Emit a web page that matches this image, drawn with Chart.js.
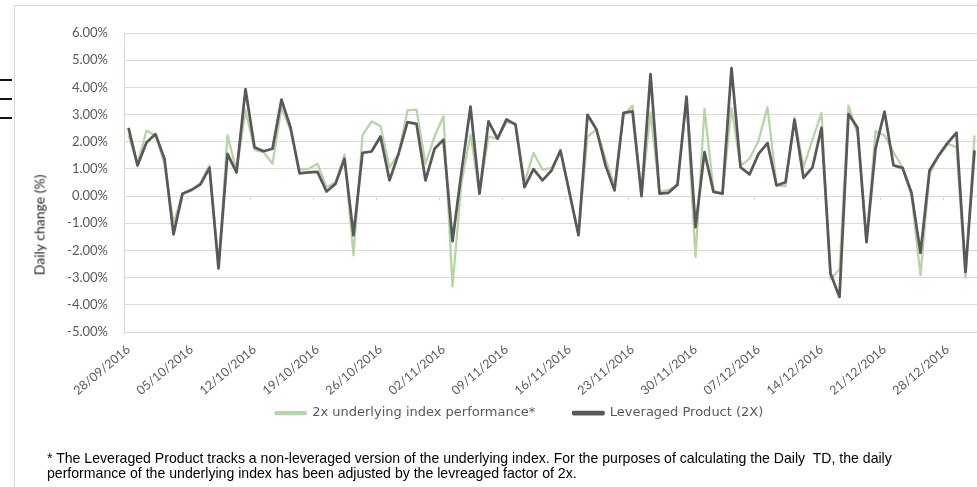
<!DOCTYPE html>
<html>
<head>
<meta charset="utf-8">
<script src="https://cdn.jsdelivr.net/npm/chart.js@4.4.1/dist/chart.umd.min.js"></script>
<style>
  html, body { margin: 0; padding: 0; background: #fff; overflow: hidden; }
  body { width: 977px; height: 487px; position: relative; }
  #frame { position: absolute; left: 14px; top: 5px; width: 1000px; height: 500px;
           border-left: 1px solid #d9d9d9; border-top: 1px solid #d9d9d9; }
  .stub { position: absolute; left: 0; width: 12px; height: 2px; background: #111; }
  #wrap { position: absolute; left: 0; top: 0; width: 1000px; height: 465px; }
  #ytitle { position: absolute; left: 39px; top: 225px; transform: translate(-50%, -50%) rotate(-90deg);
            font: 14px Lato, sans-serif; color: #262626; white-space: nowrap; }
  #note { position: absolute; left: 47px; top: 451px; font: 14.1px "Liberation Sans Narrow", "Liberation Sans", sans-serif;
          line-height: 15px; color: #000; white-space: pre; }
</style>
</head>
<body>
<div id="frame"></div>
<div class="stub" style="top:79px"></div>
<div class="stub" style="top:98px"></div>
<div class="stub" style="top:117px"></div>
<div id="wrap"><canvas id="chart"></canvas></div>
<div id="ytitle">Daily change (%)</div>
<div id="note">* The Leveraged Product tracks a non-leveraged version of the underlying index. For the purposes of calculating the Daily  TD, the daily
performance of the underlying index has been adjusted by the levreaged factor of 2x.</div>

<script>
// ── Data ───────────────────────────────────────────────────
// daily points from 28/09/2016, one label every 7 days

const FIRST_DAY = [2016, 8, 28];
const N_DAYS = 95;
const LABEL_EVERY = 7;

const CATEGORIES = Array.from({ length: N_DAYS }, (_, i) => {
  const d = new Date(FIRST_DAY[0], FIRST_DAY[1], FIRST_DAY[2] + i);
  const dd = String(d.getDate()).padStart(2, '0');
  const mm = String(d.getMonth() + 1).padStart(2, '0');
  return `${dd}/${mm}/${d.getFullYear()}`;
});

const SERIES_NAMES = ['2x underlying index performance*', 'Leveraged Product (2X)'];

const UNDERLYING_2X = [
  2.23, 1.19, 2.41, 2.22, 1.19, -1.00, 0.09, 0.20, 0.50, 1.12,
  -2.60, 2.23, 0.94, 3.15, 1.70, 1.62, 1.19, 3.27, 2.41, 0.97,
  1.00, 1.19, 0.33, 0.51, 1.53, -2.18, 2.23, 2.75, 2.57, 1.06,
  1.55, 3.15, 3.18, 1.19, 2.19, 2.94, -3.32, 0.50, 2.26, 0.09,
  2.19, 2.11, 2.72, 2.68, 0.51, 1.59, 0.97, 1.03, 1.62, 0.12,
  -1.44, 2.19, 2.45, 1.37, 0.39, 2.96, 3.33, 0.00, 3.08, 0.15,
  0.23, 0.39, 3.50, -2.24, 3.21, 0.21, 0.09, 3.24, 1.12, 1.37,
  2.04, 3.27, 0.39, 0.37, 2.90, 1.06, 2.08, 3.05, -3.04, -2.70,
  3.33, 2.29, -1.69, 2.39, 2.23, 1.62, 1.06, 0.00, -2.91, 0.82,
  1.46, 1.92, 1.80, -3.00, 2.23,
];

const LEVERAGED = [
  2.51, 1.13, 1.97, 2.28, 1.37, -1.41, 0.09, 0.23, 0.43, 1.04,
  -2.66, 1.55, 0.87, 3.93, 1.80, 1.65, 1.74, 3.55, 2.53, 0.84,
  0.87, 0.89, 0.17, 0.45, 1.37, -1.44, 1.59, 1.64, 2.19, 0.58,
  1.55, 2.72, 2.66, 0.58, 1.74, 2.07, -1.66, 0.90, 3.29, 0.09,
  2.75, 2.11, 2.82, 2.63, 0.33, 0.99, 0.58, 0.94, 1.68, 0.12,
  -1.44, 2.99, 2.45, 1.13, 0.21, 3.06, 3.12, 0.00, 4.49, 0.09,
  0.12, 0.43, 3.66, -1.14, 1.62, 0.15, 0.09, 4.71, 1.06, 0.80,
  1.55, 1.95, 0.39, 0.51, 2.80, 0.67, 1.06, 2.51, -2.85, -3.71,
  3.02, 2.51, -1.69, 1.74, 3.11, 1.13, 1.04, 0.12, -2.09, 0.94,
  1.49, 1.95, 2.33, -2.79, 1.68,
];

const Y_MIN = -5;
const Y_MAX = 6;
const Y_STEP = 1;

// ── Chart ──────────────────────────────────────────────────

const FONT = 'Lato, sans-serif';
const GRID = '#d9d9d9';
const TEXT = '#595959';
const LEGEND_FONT = 13;
const LEGEND_PAD = 38;
const LEGEND_Y = 413;
const LEGEND_DX = 30;

// small Excel-style tick marks on the zero line, between categories
const zeroTicks = {
  id: 'zeroTicks',
  beforeDatasetsDraw(chart) {
    const x = chart.scales.x, y = chart.scales.y, ctx = chart.ctx;
    const y0 = y.getPixelForValue(0);
    ctx.save();
    ctx.strokeStyle = GRID;
    ctx.lineWidth = 1;
    for (let i = LABEL_EVERY; i < CATEGORIES.length; i += LABEL_EVERY) {
      const px = Math.round((x.getPixelForValue(i - 1) + x.getPixelForValue(i)) / 2) + 0.5;
      ctx.beginPath();
      ctx.moveTo(px, y0);
      ctx.lineTo(px, y0 + 4);
      ctx.stroke();
    }
    ctx.restore();
  },
};

// pull the legend up under the date labels and a bit to the right
const legendNudge = {
  id: 'legendNudge',
  afterLayout(chart) {
    const lg = chart.legend;
    if (!lg) return;
    const shift = LEGEND_Y - (lg.top + LEGEND_PAD + LEGEND_FONT / 2);
    lg.top += shift;
    lg.bottom += shift;
    lg.left += LEGEND_DX;
    lg.right += LEGEND_DX;
  },
};

new Chart(document.getElementById('chart'), {
  type: 'line',
  data: {
    labels: CATEGORIES,
    datasets: [
      {
        label: SERIES_NAMES[0],
        data: UNDERLYING_2X,
        borderColor: '#b3d6a2',
        backgroundColor: '#b3d6a2',
        borderWidth: 2.25,
        pointRadius: 0,
        tension: 0,
        borderJoinStyle: 'round',
        order: 2,
      },
      {
        label: SERIES_NAMES[1],
        data: LEVERAGED,
        borderColor: '#595959',
        backgroundColor: '#595959',
        borderWidth: 2.75,
        pointRadius: 0,
        tension: 0,
        borderJoinStyle: 'round',
        order: 1,
      },
    ],
  },
  plugins: [zeroTicks, legendNudge],
  options: {
    responsive: true,
    maintainAspectRatio: false,
    animation: false,
    layout: { padding: { left: 0, right: 21, top: 33, bottom: 0 } },
    plugins: {
      legend: {
        position: 'bottom',
        labels: {
          font: { family: "'DejaVu Sans', sans-serif", size: LEGEND_FONT },
          color: TEXT,
          boxWidth: 30,
          boxHeight: 2,
          padding: LEGEND_PAD,
          sort: (a, b) => a.datasetIndex - b.datasetIndex,
        },
      },
      tooltip: { enabled: false },
    },
    scales: {
      x: {
        offset: true,
        afterFit: s => { s.height = 72; },
        grid: { display: false },
        border: { display: false },
        ticks: {
          autoSkip: false,
          maxRotation: 40,
          minRotation: 40,
          padding: 2,
          color: TEXT,
          font: { family: FONT, size: 12.5 },
          callback: (v, i) => (i % LABEL_EVERY === 0 ? CATEGORIES[i] : ''),
        },
      },
      y: {
        min: Y_MIN,
        max: Y_MAX,
        afterFit: s => { s.width = 124; },
        grid: { color: GRID, drawTicks: false },
        border: { display: true, color: '#c9e0bf' },
        ticks: {
          stepSize: Y_STEP,
          padding: 16,
          color: TEXT,
          font: { family: FONT, size: 13 },
          callback: v => `${v.toFixed(2)}%`,
        },
      },
    },
  },
});
</script>
</body>
</html>
